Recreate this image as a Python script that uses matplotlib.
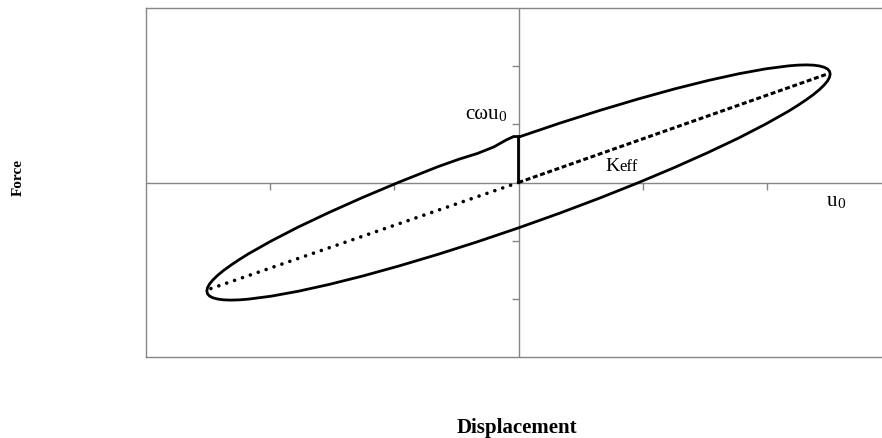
import numpy as np
import matplotlib
matplotlib.use("Agg")
import matplotlib.pyplot as plt

# hysteresis loop: origin -> cωu0, then clockwise
# upper right branch, right tip, lower branch, left tip, back to the top
disp = [0, 0, 0.328, 0.650, 0.961, 1.255, 1.528, 1.775, 1.991, 2.174, 2.251,
        2.319, 2.377, 2.425, 2.462, 2.489, 2.505, 2.51,
        2.505, 2.489, 2.462, 2.425, 2.377, 2.319, 2.251, 2.174, 1.991, 1.775,
        1.528, 1.255, 0.961, 0.650, 0.328, 0,
        -0.328, -0.650, -0.961, -1.255, -1.528, -1.775, -1.991, -2.174, -2.251,
        -2.319, -2.377, -2.425, -2.462, -2.489, -2.505, -2.51,
        -2.505, -2.489, -2.462, -2.425, -2.377, -2.319, -2.251, -2.174, -1.991,
        -1.775, -1.528, -1.255, -0.961, -0.650,
        -0.48, -0.33, -0.20, -0.10, -0.04, 0]
force = [0, 0.78, 1.017, 1.236, 1.434, 1.608, 1.754, 1.870, 1.954, 2.005, 2.018,
         2.022, 2.017, 2.003, 1.981, 1.951, 1.912, 1.865,
         1.810, 1.747, 1.677, 1.600, 1.515, 1.425, 1.328, 1.225, 1.005, 0.767,
         0.517, 0.257, -0.007, -0.271, -0.530, -0.78,
         -1.017, -1.236, -1.434, -1.608, -1.754, -1.870, -1.954, -2.005, -2.018,
         -2.022, -2.017, -2.003, -1.981, -1.951, -1.912, -1.865,
         -1.810, -1.747, -1.677, -1.600, -1.515, -1.425, -1.328, -1.225, -1.005,
         -0.767, -0.517, -0.257, 0.007, 0.271,
         0.40, 0.50, 0.61, 0.73, 0.79, 0.79]

keff_x = [0, 2.48]
keff_y = [0, 1.86]
neg_x = [0, -2.50]
neg_y = [0, -1.84]

xtick_vals = [-2, -1, 1, 2]
ytick_vals = [-2, -1, 1, 2]

grey = "#868686"
serif = ["Liberation Serif", "DejaVu Serif"]

fig = plt.figure(figsize=(8.82, 4.38), dpi=100)
W, H = 882, 438
# plot area: left 146px, top 8px, bottom 357px; right side runs off the image
ax = fig.add_axes([146 / W, (H - 357) / H, (891 - 146) / W, (357 - 8) / H])
ax.set_xlim(-3, 3)
ax.set_ylim(-3, 3)
ax.set_xticks([])
ax.set_yticks([])
for s in ax.spines.values():
    s.set_color(grey)
    s.set_linewidth(1.0)

# axes through the origin
ax.axhline(0, color=grey, lw=1.0, zorder=1)
ax.axvline(0, color=grey, lw=1.0, zorder=1)
ax.plot(xtick_vals, [0] * len(xtick_vals), ls="none", marker=3, ms=5,
        mew=1.0, color=grey, zorder=1)
ax.plot([0] * len(ytick_vals), ytick_vals, ls="none", marker=0, ms=5,
        mew=1.0, color=grey, zorder=1)

ax.plot(disp, force, color="black", lw=2.0, solid_joinstyle="round",
        solid_capstyle="round", zorder=3)
ax.plot(keff_x, keff_y, color="black", lw=2.2, linestyle=(0, (1.6, 0.9)), zorder=2)
ax.plot(neg_x, neg_y, color="black", lw=2.6, linestyle=(0, (0.01, 2.3)),
        dash_capstyle="round", zorder=2)


def label(x, y, main, small, size_main, size_small, ha="left"):
    # main text followed directly by a smaller, baseline-aligned suffix
    t = ax.text(x, y, main, family=serif, fontsize=size_main, ha=ha, va="bottom")
    ax.annotate(small, xy=(1, 0), xycoords=t, family=serif,
                fontsize=size_small, ha="left", va="bottom")
    return t


fig.canvas.draw()
label(-0.43, 1.01, "cωu", "0", 15, 11)
label(0.70, 0.13, "K", "eff", 14, 12)
label(2.48, -0.49, "u", "0", 15, 11)

fig.text(18 / W, 1 - 178 / H, "Force", family=serif, fontweight="bold",
         fontsize=11, rotation=90, ha="center", va="center")
fig.text(517 / W, 1 - 428 / H, "Displacement", family=serif, fontweight="bold",
         fontsize=15, ha="center", va="center")

fig.savefig("out.png", dpi=100)
